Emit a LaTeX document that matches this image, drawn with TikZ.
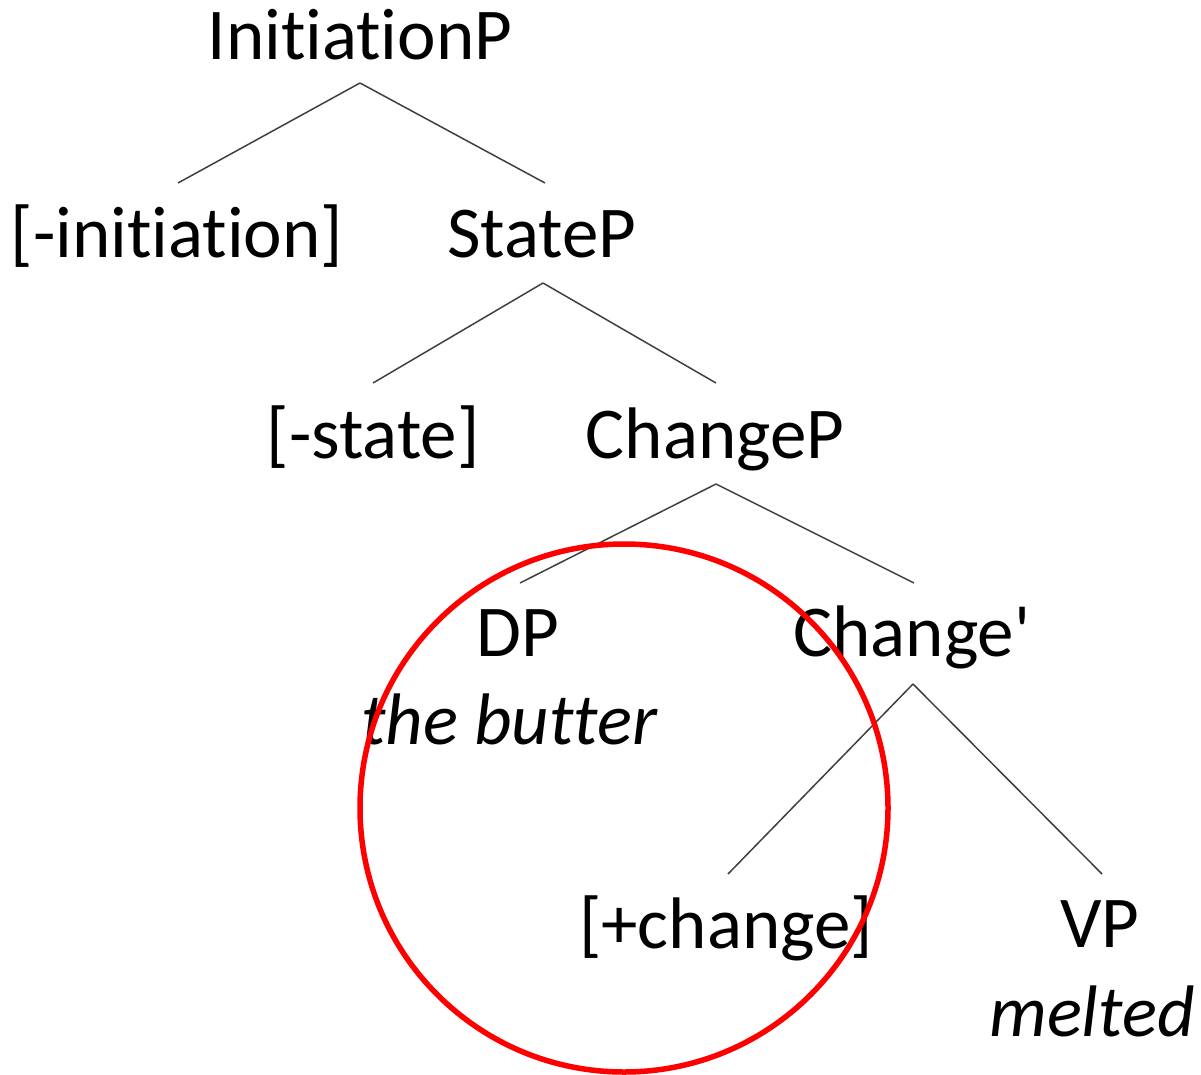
\documentclass[tikz,border=0pt]{standalone}
\usepackage{fontspec}
\setmainfont[Ligatures={NoCommon}]{Carlito}
\begin{document}
\begin{tikzpicture}[x=1pt,y=-1pt,
  lbl/.style={anchor=base,inner sep=0pt,font=\fontsize{73}{87}\selectfont},
  gloss/.style={lbl,font=\fontsize{73}{87}\selectfont\itshape},
  branch/.style={draw=black!75,line width=1.5pt}]
\useasboundingbox (0,0) rectangle (1201,1075);
\fill[white] (0,0) rectangle (1201,1075);

% category and feature labels (positioned by baseline)
\node[lbl] (ip)   at (360,60)   {InitiationP};
\node[lbl] (init) at (177,258)  {[-initiation]};
\node[lbl] (sp)   at (542,258)  {StateP};
\node[lbl] (st)   at (373,458)  {[-state]};
\node[lbl] (cp)   at (715,458)  {ChangeP};
\node[lbl] (dp)   at (518,656)  {DP};
\node[gloss] (bt) at (509,744)  {the butter};
\node[lbl] (cb)   at (912,656)  {Change\textquotesingle};
\node[lbl] (pc)   at (726,948)  {[+change]};
\node[lbl] (vp)   at (1100,947) {VP};
\node[gloss] (ml) at (1092,1036){melted};

% branches: from just below a mother to just above each daughter
\draw[branch] ([yshift=-23pt]ip.base) -- ([xshift=1pt,yshift=75pt]init.base);
\draw[branch] ([yshift=-23pt]ip.base) -- ([xshift=3pt,yshift=75pt]sp.base);
\draw[branch] ([xshift=1pt,yshift=-25pt]sp.base) -- ([yshift=75pt]st.base);
\draw[branch] ([xshift=1pt,yshift=-25pt]sp.base) -- ([xshift=1pt,yshift=75pt]cp.base);
\draw[branch] ([xshift=1pt,yshift=-26pt]cp.base) -- ([xshift=2pt,yshift=73pt]dp.base);
\draw[branch] ([xshift=1pt,yshift=-26pt]cp.base) -- ([xshift=2pt,yshift=73pt]cb.base);
\draw[branch] ([xshift=1pt,yshift=-28pt]cb.base) -- ([xshift=2pt,yshift=74pt]pc.base);
\draw[branch] ([xshift=1pt,yshift=-28pt]cb.base) -- ([xshift=2pt,yshift=73pt]vp.base);

% highlight ring
\draw[red,line width=5.5pt] (624,808) circle[radius=264];
\end{tikzpicture}
\end{document}
